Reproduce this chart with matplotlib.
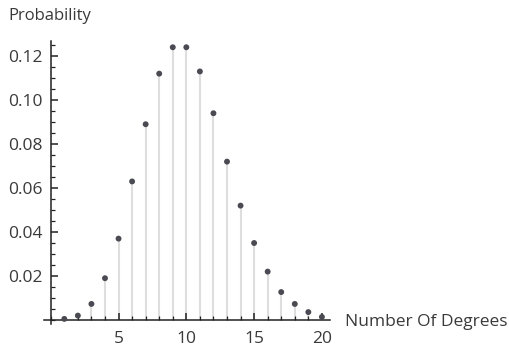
import matplotlib
matplotlib.use("Agg")
import matplotlib.pyplot as plt
from matplotlib.ticker import MultipleLocator, FixedLocator

degrees = list(range(1, 21))
probability = [0.0005, 0.002, 0.0073, 0.019, 0.037, 0.063, 0.089, 0.112, 0.124, 0.124,
               0.113, 0.094, 0.072, 0.052, 0.035, 0.022, 0.0127, 0.0073, 0.0036, 0.0014]
y_ticks = [0.02, 0.04, 0.06, 0.08, 0.10, 0.12]
x_ticks = [5, 10, 15, 20]

plt.rcParams['font.family'] = ['Open Sans', 'DejaVu Sans']
fig = plt.figure(figsize=(5.09, 3.49), dpi=100)
ax = fig.add_axes([0.0864, 0.0705, 0.562, 0.813])

ax.vlines(degrees, 0, probability, colors='#dedede', linewidth=1.5, zorder=1)
ax.scatter(degrees, probability, s=18, color='#4a4a52', zorder=3, edgecolors='none')

ax.set_xlim(-0.5, 20.6)
ax.set_ylim(-0.002, 0.127)
ax.spines['left'].set_position(('data', 0))
ax.spines['bottom'].set_position(('data', 0))
ax.spines['top'].set_visible(False)
ax.spines['right'].set_visible(False)
for s in ('left', 'bottom'):
    ax.spines[s].set_color('#222222')
    ax.spines[s].set_linewidth(1.1)

ax.yaxis.set_major_locator(FixedLocator(y_ticks))
ax.yaxis.set_minor_locator(MultipleLocator(0.005))
ax.set_yticklabels([f"{v:.2f}" for v in y_ticks])
ax.xaxis.set_major_locator(FixedLocator(x_ticks))
ax.xaxis.set_minor_locator(MultipleLocator(1))
ax.set_xticklabels([str(v) for v in x_ticks])

ax.tick_params(axis='both', which='major', direction='in', length=5, width=1.1,
               color='#222222', labelsize=12.5, labelcolor='#3a3a3a')
ax.tick_params(axis='both', which='minor', direction='in', length=3, width=0.9,
               color='#222222')
ax.tick_params(axis='y', pad=6)
ax.tick_params(axis='x', pad=8)

fig.text(8 / 509, 1 - 16 / 349, "Probability", fontsize=12, color='#3a3a3a',
         ha='left', va='center')
fig.text(345 / 509, 1 - 322 / 349, "Number Of Degrees", fontsize=12.5, color='#3a3a3a',
         ha='left', va='center')

fig.savefig("out.png", dpi=100)
